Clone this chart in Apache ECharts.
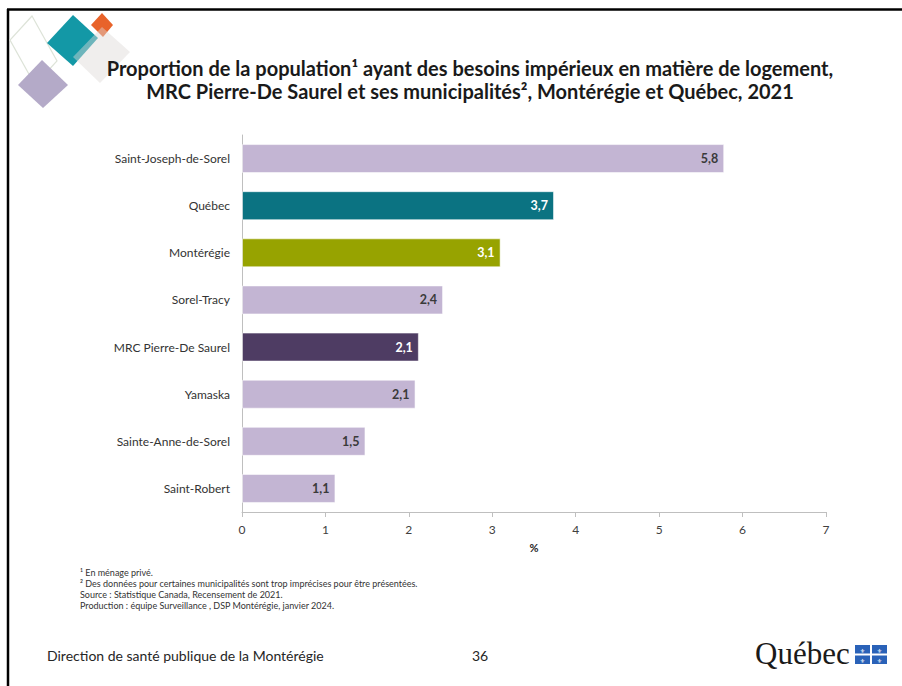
<!DOCTYPE html>
<html>
<head>
<meta charset="utf-8">
<script src="https://cdn.jsdelivr.net/npm/echarts@6/dist/echarts.min.js"></script>
<style>
html,body{margin:0;padding:0;background:#fff;}
#chart{width:902px;height:686px;}
</style>
</head>
<body>
<div id="chart"></div>
<script>
// ---- Data ----
const categories = ['Saint-Joseph-de-Sorel','Québec','Montérégie','Sorel-Tracy','MRC Pierre-De Saurel','Yamaska','Sainte-Anne-de-Sorel','Saint-Robert'];
const values = [5.78, 3.74, 3.10, 2.41, 2.12, 2.08, 1.48, 1.12];
const xTicks = [0,1,2,3,4,5,6,7];
const titleLines = [
  'Proportion de la population¹ ayant des besoins impérieux en matière de logement,',
  'MRC Pierre-De Saurel et ses municipalités², Montérégie et Québec, 2021'
];
const footnotes = [
  '¹ En ménage privé.',
  '² Des données pour certaines municipalités sont trop imprécises pour être présentées.',
  'Source : Statistique Canada, Recensement de 2021.',
  'Production : équipe Surveillance , DSP Montérégie, janvier 2024.'
];
const footerLeft = 'Direction de santé publique de la Montérégie';
const pageNumber = '36';
const logoText = 'Québec';

// ---- Styles ----
const baseColor = '#c3b5d3';
const specialColors = {'Québec':'#0b7382','Montérégie':'#97a300','MRC Pierre-De Saurel':'#4e3c63'};
const FONT = 'Lato, "Open Sans", sans-serif';

const chart = echarts.init(document.getElementById('chart'), null, {renderer:'svg'});

const seriesData = values.map((v,i)=>{
  const c = categories[i];
  const dark = !!specialColors[c];
  return {
    value: v,
    itemStyle: {color: specialColors[c] || baseColor},
    label: {color: dark ? '#ffffff' : '#3a3a3a'}
  };
});

function txt(x,y,text,font,fill,align,valign){
  return {type:'text', silent:true, style:{x:x,y:y,text:text,font:font,fill:fill,
    textAlign:align||'left', align:align||'left', textVerticalAlign:valign||'middle', verticalAlign:valign||'middle'}};
}

const graphics = [
  // frame
  {type:'line', shape:{x1:7,y1:9.5,x2:902,y2:9.5}, style:{stroke:'#000',lineWidth:2.5}},
  {type:'line', shape:{x1:8,y1:9,x2:8,y2:686}, style:{stroke:'#000',lineWidth:2.5}},
  // decoration
  {type:'polygon', shape:{points:[[32,16],[10,40],[35,85],[57,61]]}, style:{fill:'none',stroke:'#dde3d8',lineWidth:1.2}},
  {type:'polygon', shape:{points:[[42,60],[68,85],[43,108],[18,85]]}, style:{fill:'#b4aac8'}},
  {type:'polygon', shape:{points:[[73,15],[98,38],[73,66],[47,43]]}, style:{fill:'#1398a6'}},
  {type:'polygon', shape:{points:[[102,13],[113,25],[103,37],[91,25]]}, style:{fill:'#e8632a'}},
  {type:'polygon', shape:{points:[[102,27],[130,52],[100,83],[73,57]]}, style:{fill:'rgb(222,218,215)',opacity:0.45}},
  // title
  txt(470,68,titleLines[0],'bold 20px '+FONT,'#1a1a1a','center'),
  txt(470,91,titleLines[1],'bold 20px '+FONT,'#1a1a1a','center'),
  // footer
  txt(47,655,footerLeft,'14px '+FONT,'#262626','left'),
  txt(472,655,pageNumber,'14px '+FONT,'#262626','left'),
  // logo
  txt(755,653,logoText,'31px "Liberation Serif", serif','#1a1a1a','left'),
  {type:'rect', shape:{x:855,y:645,width:32,height:19}, style:{fill:'#2a62b8'}},
  {type:'rect', shape:{x:870,y:645,width:2,height:19}, style:{fill:'#fff'}},
  {type:'rect', shape:{x:855,y:653.5,width:32,height:2}, style:{fill:'#fff'}},
  txt(862.5,650,'⚜','6px "DejaVu Sans"','#fff','center'),
  txt(879.5,650,'⚜','6px "DejaVu Sans"','#fff','center'),
  txt(862.5,660,'⚜','6px "DejaVu Sans"','#fff','center'),
  txt(879.5,660,'⚜','6px "DejaVu Sans"','#fff','center')
];
footnotes.forEach((f,i)=>{ graphics.push(txt(80,572+i*11.3,f,'9px '+FONT,'#333','left')); });

chart.setOption({
  animation:false,
  backgroundColor:'#fff',
  grid:{left:242,right:76,top:135,bottom:174,containLabel:false},
  xAxis:{
    type:'value', min:0, max:7, interval:1,
    name:'%', nameLocation:'middle', nameGap:30,
    nameTextStyle:{fontFamily:FONT,fontWeight:'bold',fontSize:11,color:'#262626'},
    axisLine:{show:true,lineStyle:{color:'#bfbfbf',width:1}},
    axisTick:{show:true,length:5,lineStyle:{color:'#bfbfbf'}},
    splitLine:{show:false},
    axisLabel:{fontFamily:FONT,fontSize:12,color:'#404040',margin:11,
      formatter:(v)=> xTicks.includes(v) ? String(v) : ''}
  },
  yAxis:{
    type:'category', inverse:true, data:categories,
    axisLine:{show:true,lineStyle:{color:'#bfbfbf',width:1}},
    axisTick:{show:false},
    axisLabel:{fontFamily:FONT,fontSize:12,color:'#333',margin:12}
  },
  series:[{
    type:'bar',
    data:seriesData,
    barWidth:29,
    itemStyle:{borderColor:'rgba(255,255,255,0.55)',borderWidth:1},
    label:{show:true,position:'insideRight',distance:6,fontFamily:FONT,fontWeight:'bold',fontSize:12.5,
      formatter:(p)=>p.value.toFixed(1).replace('.',',')}
  }],
  graphic:{elements:graphics}
});
</script>
</body>
</html>
